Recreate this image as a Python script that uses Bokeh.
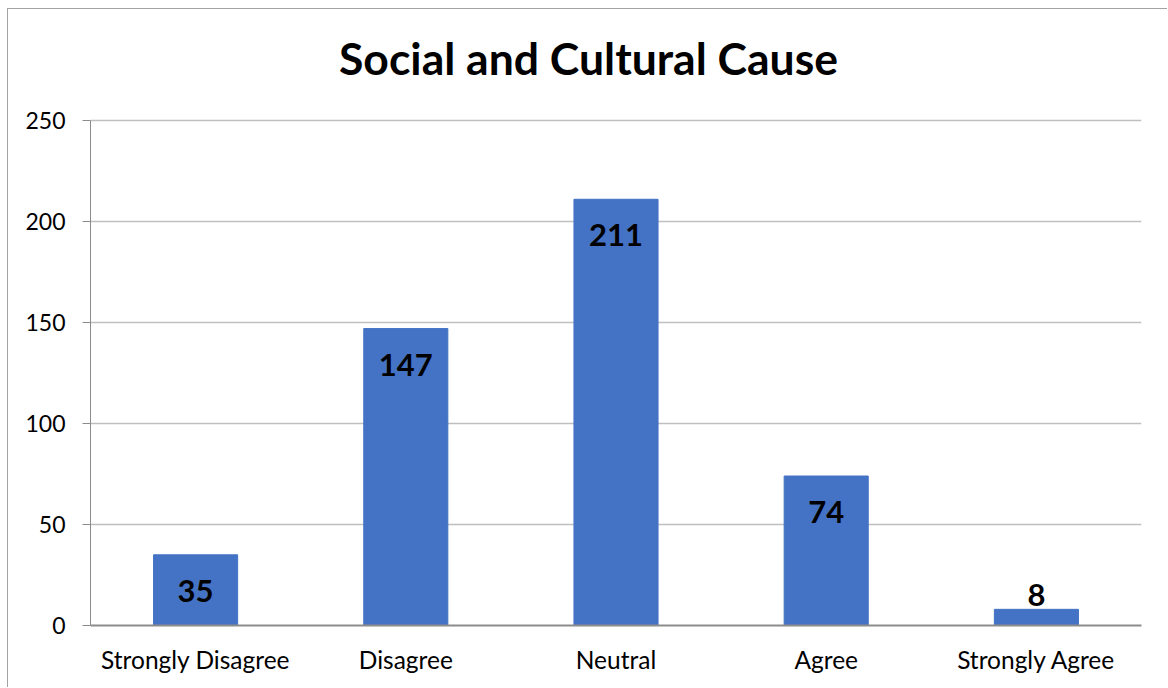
from bokeh.plotting import figure
from bokeh.models import ColumnDataSource, FixedTicker, Range1d
from bokeh.core.properties import value
from bokeh.embed import file_html
from bokeh.resources import INLINE

# Survey responses: Social and Cultural Cause
categories = ["Strongly Disagree", "Disagree", "Neutral", "Agree", "Strongly Agree"]
counts = [35, 147, 211, 74, 8]
y_ticks = [0, 50, 100, 150, 200, 250]
y_max = 250
title_text = "Social and Cultural Cause"

FONT = "Lato"
BAR_COLOR = "#4472C4"
AXIS_GRAY = "#8c8c8c"
GRID_GRAY = "#bfbfbf"
WIDTH, HEIGHT = 1160, 679
PLOT_H = 505      # pixel height of the 0..250 value band
TITLE_BAND = 111  # pixels above the value band reserved for the title

# labels sit inside the bar top, or just above it when the bar is short
label_offsets = [36 if c > 20 else -14 for c in counts]

source = ColumnDataSource(data=dict(
    cat=categories,
    count=counts,
    label=[str(c) for c in counts],
    offset=label_offsets,
))

# the frame runs up to the top of the canvas so the title can live inside it
y_end = y_max * (PLOT_H + TITLE_BAND) / PLOT_H

p = figure(
    x_range=categories,
    y_range=Range1d(0, y_end),
    width=WIDTH,
    height=HEIGHT,
    min_border_left=82,
    min_border_right=27,
    min_border_top=0,
    min_border_bottom=HEIGHT - PLOT_H - TITLE_BAND,
    output_backend="svg",
    toolbar_location=None,
    margin=(8, 0, 0, 7),
    styles={"border-left": "1px solid #a3a3a3", "border-top": "1px solid #a3a3a3"},
)
p.x_range.range_padding = 0

p.vbar(x="cat", top="count", width=0.4, source=source,
       fill_color=BAR_COLOR, line_color=BAR_COLOR)

p.text(x="cat", y="count", text="label", source=source,
       y_offset="offset", text_align="center", text_baseline="middle",
       text_font=value(FONT), text_font_style="bold",
       text_font_size="31px", text_color="#000000")

# chart title, centred over the chart box, above the top gridline
p.text(x=[categories[2]], y=[y_max], text=[title_text],
       x_offset=-27.5, y_offset=-63, text_align="center", text_baseline="alphabetic",
       text_font=value(FONT), text_font_style="bold",
       text_font_size="44.5px", text_color="#000000")

# axes
p.yaxis.ticker = FixedTicker(ticks=y_ticks)
p.yaxis.bounds = (0, y_max)
p.yaxis.axis_line_color = AXIS_GRAY
p.yaxis.major_tick_line_color = AXIS_GRAY
p.yaxis.major_tick_out = 8
p.yaxis.major_tick_in = 0
p.yaxis.minor_tick_line_color = None
p.yaxis.major_label_standoff = 17
p.yaxis.major_label_text_font = FONT
p.yaxis.major_label_text_font_size = "23px"
p.yaxis.major_label_text_color = "#000000"

p.xaxis.axis_line_color = AXIS_GRAY
p.xaxis.axis_line_width = 2
p.xaxis.major_tick_line_color = None
p.xaxis.major_label_standoff = 13
p.xaxis.major_label_text_font = FONT
p.xaxis.major_label_text_font_size = "24.5px"
p.xaxis.major_label_text_color = "#000000"

p.xgrid.grid_line_color = None
p.ygrid.grid_line_color = GRID_GRAY
p.ygrid.grid_line_width = 1.5

p.outline_line_color = None
p.background_fill_color = "white"
p.border_fill_color = "white"

open("out.html", "w").write(file_html(p, INLINE))
